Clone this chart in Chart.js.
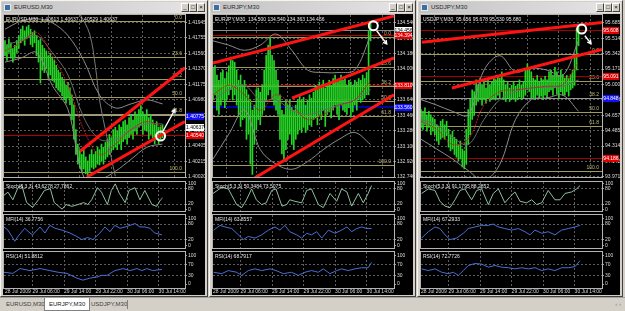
<!DOCTYPE html>
<html>
<head>
<meta charset="utf-8">
<title>EURUSD / EURJPY / USDJPY M30</title>
<script src="https://cdn.jsdelivr.net/npm/chart.js@4.4.1/dist/chart.umd.min.js"></script>
<style>
  body { margin: 0; width: 625px; height: 311px; background: #d4d0c8; position: relative; overflow: hidden; font-family: "Liberation Sans", Arial, sans-serif; }
  .win { position: absolute; top: 0; height: 297px; background: #d4d0c8; box-sizing: border-box; border: 1px solid; border-color: #f4f4f4 #404040 #404040 #f4f4f4; }
  .title { position: absolute; left: 1px; right: 1px; top: 1px; height: 11px; background: linear-gradient(90deg, #c2c2c2, #e6e6e6); }
  .ico { position: absolute; left: 2px; top: 2px; width: 7px; height: 7px; background: #3a6ea5; border: 1px solid #e8e8e8; box-sizing: border-box; }
  .txt { position: absolute; left: 12px; top: 1px; font-size: 6px; line-height: 9px; color: #2a2a2a; white-space: nowrap; }
  .btns { position: absolute; right: 1px; top: 1px; }
  .btn { float: left; width: 8px; height: 9px; background: #d4d0c8; border: 1px solid; border-color: #fff #404040 #404040 #fff; box-sizing: border-box; font-size: 6px; line-height: 7px; text-align: center; color: #000; }
  .plot { position: absolute; left: 2px; right: 2px; top: 13px; height: 281px; background: #000; }
  .plot canvas { position: absolute; left: 0; }
  .tabs { position: absolute; left: 0; top: 297px; width: 625px; height: 14px; background: #d4d0c8; border-top: 1px solid #a0a0a0; box-sizing: border-box; }
  .tab { position: absolute; top: 0; height: 12px; font-size: 6px; line-height: 12px; color: #404040; white-space: nowrap; }
  .tab.on { background: #fff; border: 1px solid #808080; border-top: 0; padding: 0 4px; color: #202020; }
  .sep { position: absolute; left: 127px; top: 2px; width: 1px; height: 9px; background: #808080; }
  .arr { position: absolute; right: 4px; top: 0; font-size: 6px; line-height: 12px; color: #808080; }
</style>
</head>
<body>
<div class="tabs">
  <div class="tab" style="left:6px">EURUSD,M30</div>
  <div class="tab on" style="left:44px">EURJPY,M30</div>
  <div class="tab" style="left:91px">USDJPY,M30</div>
  <div class="sep"></div>
  <div class="arr">‹ ›</div>
</div>
<script>
// shared axis data
const dateLabels = ['28 Jul 2009', '29 Jul 06:00', '29 Jul 14:00', '29 Jul 22:00', '30 Jul 06:00', '30 Jul 14:00'];
const dateBars = [0, 14, 30, 46, 62, 78];
const bandBars = [0, 8, 16, 24, 32, 40, 48, 56, 64, 72, 80];
const fibPct = [0, 23.6, 38.2, 50, 61.8, 100];
const stochTicks = [0, 20, 80, 100];
const rsiTicks = [0, 30, 70, 100];

// EURUSD,M30
const euHigh = [1.4172,1.4166,1.4174,1.4169,1.4162,1.4166,1.4172,1.4178,1.4186,1.4190,
  1.4184,1.4189,1.4191,1.4186,1.4182,1.4184,1.4178,1.4172,1.4174,1.4166,
  1.4162,1.4159,1.4153,1.4156,1.4150,1.4147,1.4141,1.4135,1.4132,1.4126,
  1.4122,1.4116,1.4120,1.4113,1.4104,1.4092,1.4061,1.4043,1.4036,1.4030,
  1.4036,1.4027,1.4022,1.4030,1.4036,1.4030,1.4034,1.4039,1.4036,1.4043,
  1.4039,1.4045,1.4049,1.4055,1.4051,1.4061,1.4064,1.4059,1.4067,1.4064,
  1.4071,1.4073,1.4067,1.4076,1.4080,1.4073,1.4083,1.4080,1.4086,1.4091,
  1.4083,1.4080,1.4086,1.4076,1.4080,1.4073,1.4067,1.4071,1.4064,1.4066,1.4067];
const euLow = [1.4153,1.4147,1.4157,1.4150,1.4145,1.4150,1.4157,1.4162,1.4169,1.4172,
  1.4166,1.4174,1.4177,1.4167,1.4164,1.4169,1.4153,1.4145,1.4119,1.4135,
  1.4132,1.4137,1.4125,1.4129,1.4122,1.4120,1.4113,1.4110,1.4108,1.4103,
  1.4098,1.4094,1.4100,1.4092,1.4073,1.4049,1.4030,1.4018,1.4014,1.4009,
  1.4012,1.4006,1.4004,1.4009,1.4014,1.4012,1.4014,1.4018,1.4017,1.4022,
  1.4018,1.4024,1.4027,1.4030,1.4034,1.4036,1.4039,1.4036,1.4043,1.4036,
  1.4046,1.4049,1.4043,1.4051,1.4055,1.4049,1.4059,1.4055,1.4064,1.4067,
  1.4055,1.4061,1.4059,1.4049,1.4055,1.4051,1.4043,1.4049,1.4043,1.4049,1.4051];
const euUpper = [1.4186,1.4196,1.4199,1.4194,1.4178,1.4147,1.4104,1.4088,1.4093,1.4098,1.4093];
const euMid = [1.4166,1.4172,1.4178,1.4157,1.4129,1.4076,1.4049,1.4049,1.4061,1.4068,1.4068];
const euLower = [1.4145,1.4150,1.4157,1.4116,1.4086,1.4002,1.3999,1.4009,1.4024,1.4039,1.4043];
const euMa = [1.4159,1.4169,1.4182,1.4153,1.4116,1.4061,1.4030,1.4043,1.4061,1.4071,1.4064];
const euEnvBars = [36, 38, 43, 46, 48, 52, 56];
const euEnv = [1.4211, 1.4205, 1.4180, 1.4138, 1.4098, 1.4049, 1.4003];
const euTicks = [1.41945,1.41755,1.41560,1.41370,1.41175,1.40980,1.40790,1.40595,1.40405,1.40215,1.40020];
const euFib = [1.41957, 1.40082];
const euTrend = [[[38.1, 1.4034], [91.4, 1.4138]], [[41.6, 1.4002], [91.4, 1.4071]]];
const euLevels = [[1.40795, '#9a9a9a', 1], [1.40540, '#b00000', 1]];
const euTags = [[1.40775, '1.40775', '#1010ff', '#fff'], [1.40637, '1.40637', '#fff', '#000'], [1.40540, '1.40540', '#e00000', '#fff']];
const euMark = [79, 1.4053, 80.2, 1.4059, 86.3, 1.4086];
const euStoch = [[-0.5,55],[1.5,67],[4,37],[6.6,85],[8.6,93],[11,26],[14,7],[17,37],[20,74],[23,81],[25,26],[29,0],[31,18],[34,11],[37,18],[40,26],[42,18],[44,37],[47,85],[49,67],[52,18],[54,74],[56,100],[58,63],[61,26],[63,74],[66,85],[68.5,37],[71,74],[74.6,18],[77,11],[79,37],[80,44]];
const euMfi = [[-0.5,69],[1.5,57],[5,15],[6.6,33],[10,64],[12.7,46],[14,39],[17.8,69],[20.3,46],[22.8,75],[25.4,64],[29,57],[33,46],[36.5,33],[39,21],[42,29],[44.7,21],[48.2,46],[50.8,69],[53.3,51],[55.8,75],[58.4,64],[61,69],[63.5,75],[66,82],[68.5,69],[71,69],[73.6,64],[76,46],[79.7,39]];
const euRsi = [[-0.5,42],[4,38],[7.6,55],[12.7,48],[17.8,55],[22.8,48],[27,42],[31.5,38],[36.5,21],[39.6,14],[43,21],[46.7,25],[49,31],[51.8,31],[55.8,48],[60,55],[63.5,48],[67,55],[69.5,48],[72,55],[75,48],[79.7,52]];

// EURJPY,M30
const ejHigh = [134.01,134.04,133.93,133.87,133.96,133.99,133.89,133.96,134.04,134.14,
  134.10,134.08,133.99,133.87,133.93,133.81,133.87,133.76,133.70,133.64,
  133.52,133.58,133.76,133.78,133.73,133.81,133.99,134.16,134.28,134.37,
  134.16,134.10,133.99,133.87,133.70,133.52,133.47,133.64,133.58,133.64,
  133.55,133.52,133.58,133.64,133.70,133.64,133.67,133.58,133.64,133.70,
  133.66,133.73,133.81,133.76,133.85,133.81,133.87,133.78,133.81,133.87,
  133.81,133.89,133.93,133.85,133.87,133.93,133.87,133.89,133.81,133.87,
  133.85,133.81,133.87,133.85,133.89,133.87,133.93,133.89,133.96,134.45,134.54];
const ejLow = [133.64,133.70,133.52,133.47,133.58,133.64,133.55,133.64,133.70,133.76,
  133.64,133.70,133.58,133.47,133.33,133.41,133.43,133.18,133.24,132.89,
  132.77,133.12,133.29,133.41,133.35,133.47,133.52,133.64,133.70,133.76,
  133.64,133.58,133.52,133.47,133.18,133.01,132.95,133.06,133.18,133.24,
  133.12,133.06,133.18,133.24,133.29,133.26,133.32,133.26,133.29,133.35,
  133.33,133.41,133.43,133.35,133.47,133.41,133.52,133.33,133.47,133.50,
  133.43,133.52,133.58,133.47,133.41,133.58,133.52,133.50,133.47,133.55,
  133.44,133.50,133.58,133.52,133.64,133.61,133.64,133.66,133.70,133.70,134.33];
const ejUpper = [134.33,134.28,134.22,134.28,134.41,134.22,133.99,133.96,133.96,133.99,134.39];
const ejMid = [133.64,133.76,133.81,133.64,133.64,133.52,133.47,133.52,133.58,133.64,133.76];
const ejLower = [132.95,133.24,133.52,133.06,132.89,132.83,132.92,133.06,133.18,133.26,133.12];
const ejMa = [133.70,133.81,133.70,133.52,133.70,133.58,133.41,133.47,133.58,133.64,133.87];
const ejTicks = [134.540,134.360,134.180,134.000,133.820,133.640,133.460,133.280,133.100,132.920,132.740];
const ejFib = [134.378, 132.878];
const ejTrend = [[[0, 134.07], [91.9, 134.62]], [[40.1, 133.66], [91.9, 134.13]], [[21.3, 132.73], [91.9, 133.70]]];
const ejLevels = [[134.456, '#8a8a8a', 1], [134.394, '#b00000', 1], [133.810, '#a00000', 1], [133.560, '#0000a8', 2]];
const ejTags = [[134.456, '134.456', '#fff', '#000'], [134.394, '134.394', '#e00000', '#fff'], [133.810, '133.810', '#e00000', '#fff'], [133.560, '133.560', '#1010ff', '#fff']];
const ejMark = [81.4, 134.505, 83.1, 134.448, 88.2, 134.294];
const ejStoch = [[0,62],[4.4,86],[7.8,80],[12,18],[14.6,6],[17,37],[19.6,80],[22,37],[24.7,18],[27,25],[29.8,74],[32,80],[35,12],[37.4,18],[39,37],[41.6,31],[45,25],[47.6,74],[50,80],[53.5,18],[56,6],[59.4,62],[62.8,31],[65.3,80],[68,68],[70.4,12],[73.8,62],[76.3,25],[78.8,62],[80.5,93]];
const ejMfi = [[0.3,57],[3.6,75],[6.1,69],[9.5,63],[12.9,39],[15.4,21],[17.9,33],[21.3,27],[24.7,39],[28.1,57],[31.5,69],[34,57],[36.5,75],[39,51],[42.5,39],[45,27],[47.6,45],[50,39],[52.6,51],[55.2,27],[58.6,57],[61.9,45],[65.3,57],[68,69],[70.4,51],[73,63],[75.5,69],[78,63],[80.5,63]];
const ejRsi = [[0.3,42],[4.4,37],[7.8,48],[12,42],[14.6,31],[17.9,48],[21.3,54],[24.7,48],[29,54],[32,48],[35.7,37],[39.9,42],[43.3,31],[46.7,42],[50,48],[53.5,42],[56,54],[59.4,37],[62.8,48],[65.3,54],[68.7,48],[72,54],[75.5,58],[78.8,58],[80.5,77]];

// USDJPY,M30
const ujHigh = [94.72,94.70,94.74,94.66,94.70,94.66,94.63,94.61,94.55,94.52,
  94.59,94.61,94.55,94.59,94.50,94.44,94.48,94.41,94.39,94.33,
  94.37,94.28,94.26,94.50,94.72,94.83,94.94,94.92,95.05,94.99,
  95.07,94.99,95.03,94.96,95.05,94.99,95.03,95.07,95.05,95.10,
  95.07,95.14,95.05,94.99,95.03,94.96,94.99,95.03,94.98,95.00,
  95.05,94.99,95.03,95.16,95.23,95.18,95.14,95.07,95.05,95.10,
  95.03,95.07,95.05,95.09,95.05,95.14,95.16,95.10,95.19,95.14,
  95.10,95.16,95.11,95.07,95.10,95.07,95.11,95.16,95.32,95.62,95.67];
const ujLow = [94.52,94.50,94.55,94.48,94.52,94.44,94.48,94.44,94.37,94.33,
  94.39,94.41,94.39,94.43,94.30,94.26,94.28,94.22,94.19,94.15,
  94.17,94.08,94.06,94.11,94.33,94.44,94.61,94.66,94.77,94.81,
  94.83,94.77,94.83,94.79,94.85,94.81,94.83,94.85,94.83,94.88,
  94.85,94.92,94.83,94.81,94.85,94.81,94.83,94.85,94.81,94.83,
  94.86,94.83,94.85,94.88,94.94,94.92,94.85,94.85,94.83,94.88,
  94.85,94.87,94.83,94.88,94.85,94.92,94.94,94.88,94.96,94.89,
  94.85,94.92,94.88,94.88,94.92,94.87,94.94,94.96,94.99,95.16,95.43];
const ujUpper = [94.83,94.77,94.70,94.66,95.16,95.32,95.14,95.18,95.16,95.10,95.49];
const ujMid = [94.61,94.55,94.41,94.33,94.61,94.83,94.92,94.96,94.97,94.98,95.05];
const ujLower = [94.39,94.28,94.17,94.04,93.93,94.11,94.61,94.83,94.85,94.88,94.70];
const ujMa = [94.59,94.50,94.33,94.39,94.77,94.92,94.94,94.96,94.98,95.00,95.25];
const ujTicks = [95.685,95.514,95.342,95.171,95.000,94.828,94.657,94.485,94.314,94.142,93.971];
const ujFib = [95.344, 94.036];
const ujTrend = [[[0.5, 95.47], [91.9, 95.69]], [[15.7, 94.96], [91.9, 95.39]]];
const ujLevels = [[95.608, '#a00000', 1], [95.091, '#a00000', 1], [94.848, '#9a9a9a', 1], [94.186, '#a00000', 1]];
const ujTags = [[95.608, '95.608', '#e00000', '#fff'], [95.091, '95.091', '#e00000', '#fff'], [94.848, '94.848', '#1010ff', '#fff'], [94.186, '94.186', '#e00000', '#fff']];
const ujMark = [81.6, 95.616, 83.2, 95.542, 86.3, 95.454];
const ujStoch = [[0.3,62],[3.7,80],[7.1,74],[9.6,31],[12.2,12],[14.7,6],[17.3,37],[19.8,74],[22.3,80],[25.7,37],[28.3,74],[30.8,80],[34.2,18],[36.7,62],[39.3,80],[42.6,25],[45.2,49],[47.7,68],[50.3,31],[53.6,25],[56.2,37],[58.7,18],[61.3,25],[64.6,74],[68,37],[70.6,37],[73.1,62],[76.5,68],[79,80],[80.7,93]];
const ujMfi = [[0.3,27],[3.7,51],[7.1,69],[9.6,63],[12.2,39],[14.7,21],[18.1,27],[21.5,45],[24,63],[27.4,69],[30.8,75],[34.2,75],[36.7,80],[39.3,69],[42.6,63],[46,57],[49.4,63],[52.8,51],[55.3,39],[57.9,57],[61.3,45],[64.6,51],[68,39],[71.4,57],[74.8,63],[78.2,69],[80.7,75]];
const ujRsi = [[0.3,54],[3.7,48],[7.1,54],[10.5,42],[13.9,37],[16.4,42],[19,31],[21.5,48],[24,66],[27.4,73],[30.8,71],[34.2,60],[37.6,66],[41,60],[44.3,58],[47.7,54],[51.1,58],[54.5,54],[57.9,58],[61.3,48],[64.6,54],[68,48],[71.4,58],[74.8,58],[78.2,62],[80.7,83]];

const FAM = '"Liberation Sans", Arial, sans-serif';
const FONT = '5px ' + FAM;
const TXT = '#dcdcdc';
const GRID = '#5c5c5c';

// MT4 style extras: fibo, horizontal lines, price tags, frame, labels, arrow
const mt4 = {
  id: 'mt4',
  beforeDatasetsDraw(chart, args, o) {
    const { ctx, chartArea: a, scales: { y } } = chart;
    ctx.save();
    ctx.beginPath();
    ctx.rect(a.left, a.top, a.width, a.height);
    ctx.clip();
    if (o.fib) {
      const [hi, lo] = o.fib;
      ctx.font = FONT;
      ctx.textAlign = 'right';
      ctx.textBaseline = 'bottom';
      fibPct.forEach(p => {
        const py = Math.round(y.getPixelForValue(hi - (hi - lo) * p / 100)) + 0.5;
        ctx.strokeStyle = '#9f9a5a';
        ctx.lineWidth = 1;
        ctx.beginPath(); ctx.moveTo(a.left, py); ctx.lineTo(a.right, py); ctx.stroke();
        ctx.fillStyle = '#c2b978';
        ctx.fillText(p.toFixed(1), a.right - 3, py - 1);
      });
    }
    (o.levels || []).forEach(([v, c, w]) => {
      const py = Math.round(y.getPixelForValue(v)) + (w === 2 ? 0 : 0.5);
      ctx.strokeStyle = c;
      ctx.lineWidth = w;
      ctx.beginPath(); ctx.moveTo(a.left, py); ctx.lineTo(a.right, py); ctx.stroke();
    });
    ctx.restore();
  },
  afterDatasetsDraw(chart, args, o) {
    if (!o.mark) return;
    const { ctx, scales: { x, y } } = chart;
    const m = o.mark;
    const cx = x.getPixelForValue(m[0]), cy = y.getPixelForValue(m[1]);
    const ax = x.getPixelForValue(m[2]), ay = y.getPixelForValue(m[3]);
    const bx = x.getPixelForValue(m[4]), by = y.getPixelForValue(m[5]);
    ctx.save();
    ctx.strokeStyle = '#fff';
    ctx.lineWidth = 2;
    ctx.beginPath(); ctx.arc(cx, cy, 4.5, 0, Math.PI * 2); ctx.stroke();
    ctx.lineWidth = 1.4;
    ctx.beginPath(); ctx.moveTo(ax, ay); ctx.lineTo(bx, by); ctx.stroke();
    const ang = Math.atan2(by - ay, bx - ax);
    ctx.beginPath();
    ctx.moveTo(bx - 4 * Math.cos(ang - 0.5), by - 4 * Math.sin(ang - 0.5));
    ctx.lineTo(bx, by);
    ctx.lineTo(bx - 4 * Math.cos(ang + 0.5), by - 4 * Math.sin(ang + 0.5));
    ctx.stroke();
    ctx.restore();
  },
  afterDraw(chart, args, o) {
    const { ctx, chartArea: a, scales: { y } } = chart;
    ctx.save();
    ctx.strokeStyle = '#b4b4b4';
    ctx.lineWidth = 1;
    ctx.strokeRect(a.left - 0.5, a.top - 0.5, a.width + 1, a.height + 1);
    ctx.font = FONT;
    ctx.textBaseline = 'top';
    ctx.textAlign = 'left';
    ctx.fillStyle = '#e8e8e8';
    if (o.name) ctx.fillText(o.name, a.left + 2, a.top + 2);
    (o.tags || []).forEach(([v, t, bg, fg]) => {
      const py = Math.round(y.getPixelForValue(v));
      ctx.fillStyle = bg;
      ctx.fillRect(a.right + 1, py - 3, chart.width - a.right - 2, 7);
      ctx.fillStyle = fg;
      ctx.textBaseline = 'middle';
      ctx.textAlign = 'center';
      ctx.fillText(t, (a.right + chart.width) / 2, py + 0.5);
    });
    ctx.restore();
  }
};
Chart.register(mt4);

function xScale(w, showLabels) {
  return {
    type: 'linear', min: w.xMin, max: w.xMax, offset: false,
    afterBuildTicks: s => { s.ticks = dateBars.map(v => ({ value: v })); },
    ticks: { display: showLabels, align: 'start', maxRotation: 0, autoSkip: false, padding: 1, color: TXT, font: { size: 5, family: FAM }, callback: (v, i) => dateLabels[i] },
    grid: { color: c => c.index === 0 ? 'rgba(0,0,0,0)' : GRID, drawTicks: false },
    border: { display: false, dash: [2, 2] },
    afterFit: s => { s.height = showLabels ? 7 : 0; }
  };
}

function yScale(min, max, ticks, fmt, axisW, gridColor) {
  return {
    position: 'right', min: min, max: max,
    afterBuildTicks: s => { s.ticks = ticks.map(v => ({ value: v })); },
    ticks: { color: TXT, font: { size: 5, family: FAM }, padding: 1, autoSkip: false, callback: fmt },
    grid: { color: gridColor, tickLength: 2, tickColor: '#9a9a9a' },
    border: { display: false, dash: [2, 2] },
    afterFit: s => { s.width = axisW; }
  };
}

function band(arr, color, dash) {
  return { type: 'line', data: bandBars.map((b, i) => ({ x: b, y: arr[i] })), borderColor: color, borderWidth: 1, borderDash: dash || [], pointRadius: 0, tension: 0.35 };
}

const windows = [
  { left: 0, width: 208, title: 'EURUSD,M30', xMin: -0.5, xMax: 91.4, digits: 5, yMin: 1.40020, yMax: 1.42037,
    name: 'EURUSD,M30  1.40613 1.40637 1.40529 1.40637', high: euHigh, low: euLow, upper: euUpper, mid: euMid, lower: euLower, ma: euMa,
    envBars: euEnvBars, env: euEnv, ticks: euTicks, fib: euFib, trend: euTrend, levels: euLevels, tags: euTags, mark: euMark,
    stoch: euStoch, mfi: euMfi, rsi: euRsi, stochName: 'Stoch(5,3,3) 43.6278 27.7862', mfiName: 'MFI(14) 36.7756', rsiName: 'RSI(14) 51.8812' },
  { left: 209, width: 207, title: 'EURJPY,M30', xMin: 0, xMax: 91.9, digits: 3, yMin: 132.740, yMax: 134.632,
    name: 'EURJPY,M30  134.500 134.540 134.363 134.456', high: ejHigh, low: ejLow, upper: ejUpper, mid: ejMid, lower: ejLower, ma: ejMa,
    envBars: [], env: [], ticks: ejTicks, fib: ejFib, trend: ejTrend, levels: ejLevels, tags: ejTags, mark: ejMark,
    stoch: ejStoch, mfi: ejMfi, rsi: ejRsi, stochName: 'Stoch(5,3,3) 50.3484 73.5075', mfiName: 'MFI(14) 63.8557', rsiName: 'RSI(14) 68.7917' },
  { left: 417, width: 206, title: 'USDJPY,M30', xMin: 0, xMax: 91.9, digits: 3, yMin: 93.969, yMax: 95.773,
    name: 'USDJPY,M30  95.656 95.678 95.530 95.680', high: ujHigh, low: ujLow, upper: ujUpper, mid: ujMid, lower: ujLower, ma: ujMa,
    envBars: [], env: [], ticks: ujTicks, fib: ujFib, trend: ujTrend, levels: ujLevels, tags: ujTags, mark: ujMark,
    stoch: ujStoch, mfi: ujMfi, rsi: ujRsi, stochName: 'Stoch(5,3,3) 91.1795 88.2852', mfiName: 'MFI(14) 67.2933', rsiName: 'RSI(14) 72.7726' }
];

const base = {
  responsive: false, animation: false, events: [], devicePixelRatio: 1,
  plugins: { legend: { display: false }, tooltip: { enabled: false } }
};

function build(w) {
  const win = document.createElement('div');
  win.className = 'win';
  win.style.left = w.left + 'px';
  win.style.width = w.width + 'px';
  win.innerHTML = '<div class="title"><div class="ico"></div><div class="txt">' + w.title + '</div>' +
    '<div class="btns"><div class="btn">_</div><div class="btn">□</div><div class="btn">×</div></div></div><div class="plot"></div>';
  document.body.appendChild(win);
  const plot = win.querySelector('.plot');
  const pw = w.width - 6;
  const axisW = pw - 182;

  function canvas(top, h) {
    const c = document.createElement('canvas');
    c.width = pw; c.height = h;
    c.style.width = pw + 'px'; c.style.height = h + 'px';
    c.style.top = top + 'px';
    plot.appendChild(c);
    return c;
  }

  // price pane
  const ds = [];
  w.trend.forEach(t => ds.push({ type: 'line', data: t.map(p => ({ x: p[0], y: p[1] })), borderColor: '#ff1414', borderWidth: 3, pointRadius: 0 }));
  ds.push(band(w.ma, '#c01c1c', [2, 1]));
  ds.push(band(w.upper, '#8c8c8c'));
  ds.push(band(w.mid, '#6a6a6a'));
  ds.push(band(w.lower, '#8c8c8c'));
  if (w.env.length) ds.push({ type: 'line', data: w.envBars.map((b, i) => ({ x: b, y: w.env[i] })), borderColor: '#7a7a7a', borderWidth: 1, pointRadius: 0, tension: 0.35 });
  ds.push({ type: 'bar', data: w.high.map((h, i) => ({ x: i, y: [w.low[i], h] })), backgroundColor: '#26d626', barThickness: 1, borderWidth: 0 });

  new Chart(canvas(-3, 170), {
    type: 'bar',
    data: { datasets: ds },
    options: Object.assign({}, base, {
      layout: { padding: { left: 1, right: 0, top: 3, bottom: 3 } },
      plugins: Object.assign({}, base.plugins, { mt4: { fib: w.fib, levels: w.levels, tags: w.tags, mark: w.mark, name: w.name } }),
      scales: {
        x: xScale(w, false),
        y: yScale(w.yMin, w.yMax, w.ticks, v => Number(v).toFixed(w.digits), axisW, GRID)
      }
    })
  });

  // indicator panes
  const panes = [
    { top: 164, h: 37, pts: w.stoch, color: '#8fbf9f', ticks: stochTicks, lv: [20, 80], min: -7.4, max: 107.4, name: w.stochName, x: false },
    { top: 197, h: 41, pts: w.mfi, color: '#4a6ed6', ticks: stochTicks, lv: [20, 80], min: -10.7, max: 114.3, name: w.mfiName, x: false },
    { top: 234, h: 47, pts: w.rsi, color: '#4a6ed6', ticks: rsiTicks, lv: [30, 70], min: -13.8, max: 113.8, name: w.rsiName, x: true }
  ];
  panes.forEach(p => {
    new Chart(canvas(p.top, p.h), {
      type: 'line',
      data: { datasets: [{ data: p.pts.map(q => ({ x: q[0], y: q[1] })), borderColor: p.color, borderWidth: 1, pointRadius: 0 }] },
      options: Object.assign({}, base, {
        layout: { padding: { left: 1, right: 0, top: 3, bottom: p.x ? 0 : 3 } },
        plugins: Object.assign({}, base.plugins, { mt4: { name: p.name } }),
        scales: {
          x: xScale(w, p.x),
          y: yScale(p.min, p.max, p.ticks, v => String(v), axisW, c => p.lv.includes(c.tick.value) ? GRID : 'rgba(0,0,0,0)')
        }
      })
    });
  });
}

windows.forEach(build);
</script>
</body>
</html>
